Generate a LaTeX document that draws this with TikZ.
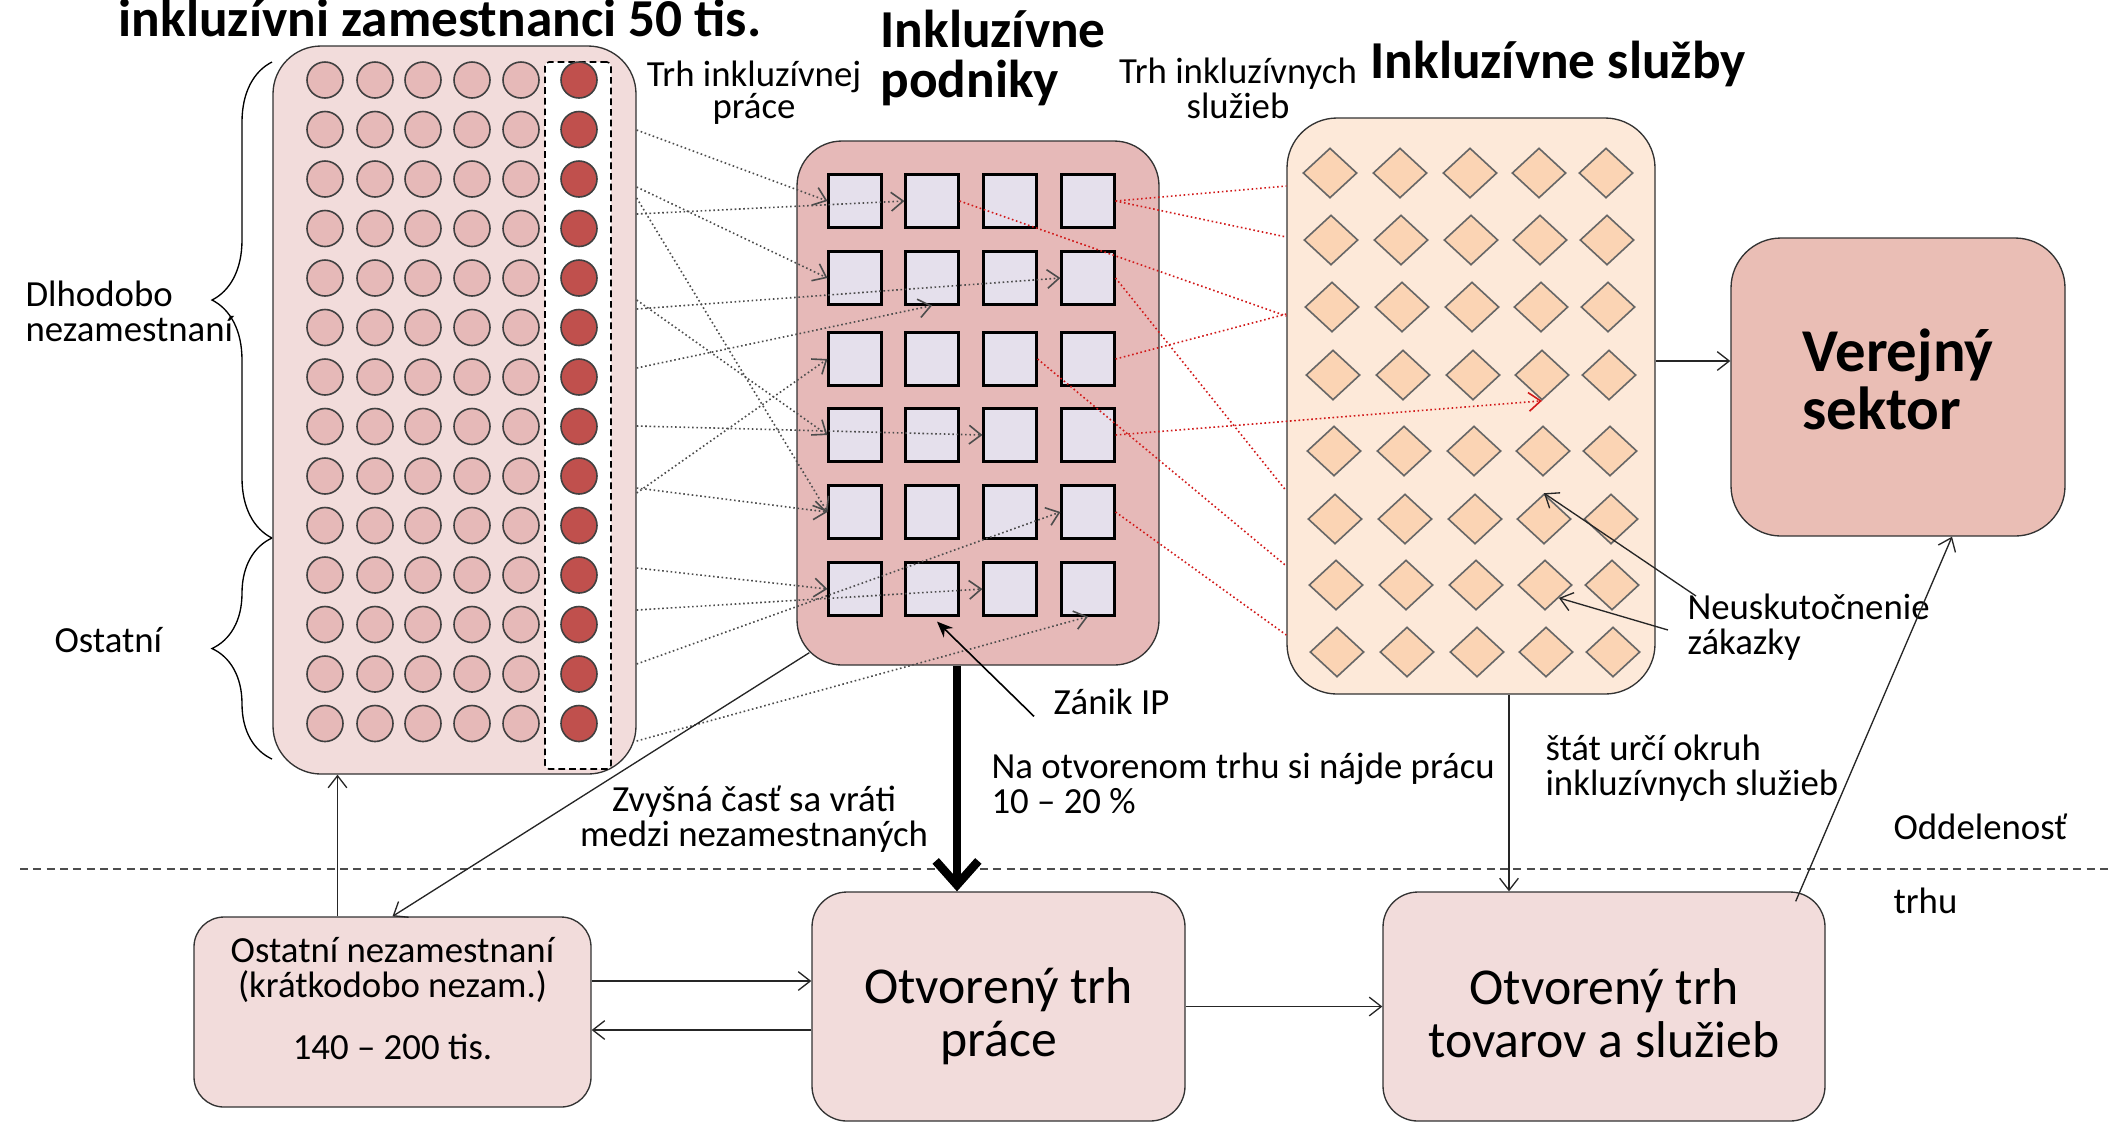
\documentclass[tikz,border=0pt]{standalone}
\usepackage{fontspec}
\setmainfont{Carlito}
\usepackage[dvipsnames]{xcolor}
\usetikzlibrary{arrows, arrows.meta}
\usetikzlibrary{positioning}
\usetikzlibrary{calc}
\usetikzlibrary{shapes.geometric}
\usetikzlibrary{decorations.pathreplacing}
\definecolor{ruzova}{HTML}{F2DCDB}
\definecolor{ruzovatm}{HTML}{E6B9B8}
\definecolor{cervena}{HTML}{C0504D}
\definecolor{levandula}{HTML}{E5E0EC}
\definecolor{broskyna}{HTML}{FDE9D9}
\definecolor{oranzova}{HTML}{FBD4B4}
\definecolor{losos}{HTML}{EABEB5}
\newlength{\px}
\setlength{\px}{0.375pt}
\tikzset{
	panel/.style={draw=black!80, line width=0.5pt, rounded corners=#1},
	osoba/.style={circle, draw=black!75, line width=0.6pt, fill=ruzovatm, minimum size=36\px, inner sep=0},
	firma/.style={rectangle, draw=black, line width=0.8pt, fill=levandula, minimum size=53\px, inner sep=0},
	sluzba/.style={diamond, draw=black!60, line width=0.6pt, fill=oranzova, minimum width=54\px, minimum height=50\px, inner sep=0},
	tok/.style={->, densely dotted, black!70, line width=0.6pt},
	tokr/.style={densely dotted, red!80!black!90, line width=0.6pt},
	sipka/.style={->, black!85, line width=0.5pt},
	hruba/.style={-{Straight Barb[length=9pt,width=16pt]}, line width=3.2pt},
	nadpis/.style={inner sep=0, font=\bfseries\fontsize{20pt}{18.75pt}\selectfont},
	popis/.style={inner sep=0, font=\fontsize{13.8pt}{13.1pt}\selectfont},
	velky/.style={font=\fontsize{19.4pt}{19.9pt}\selectfont, align=center}
}

\begin{document}
\begin{tikzpicture}[x=0.375pt, y=-0.375pt, >={Straight Barb[length=4.5pt,width=7pt]}]
	\useasboundingbox (0,0) rectangle (2112,1124);

	% draw the three panels
	\node[panel=48\px, fill=ruzova, minimum width=363\px, minimum height=728\px] (zam) at (454.5,410) {};
	\node[draw, line width=0.6pt, dash pattern=on 2.5pt off 1.5pt, fill=white, rounded corners=4\px, minimum width=66\px, minimum height=707\px] (strip) at (578,415.5) {};
	\node[panel=45\px, fill=ruzovatm, minimum width=362\px, minimum height=524\px] (podn) at (978,403) {};
	\node[panel=50\px, fill=broskyna, minimum width=368\px, minimum height=576\px] (sluz) at (1471,406) {};

	% draw boxes
	\node[panel=50\px, fill=losos, minimum width=334\px, minimum height=298\px,
		label={[align=left, yshift=3pt, font=\bfseries\fontsize{22.8pt}{21.75pt}\selectfont]center:Verejný\\sektor}] (verej) at (1898,387) {};
	\node[panel=30\px, fill=ruzova, minimum width=397\px, minimum height=190\px,
		label={[align=center, yshift=5pt, font=\fontsize{13.8pt}{12.8pt}\selectfont]center:Ostatní nezamestnaní\\(krátkodobo nezam.)\\[10.5pt]140 – 200 tis.}] (ostn) at (392.5,1012) {};
	\node[panel=35\px, fill=ruzova, minimum width=373\px, minimum height=229\px,
		label={[velky, yshift=-3.75pt]center:Otvorený trh\\práce}] (otprace) at (998.5,1006.5) {};
	\node[panel=35\px, fill=ruzova, minimum width=442\px, minimum height=229\px,
		label={[velky, yshift=-2.5pt]center:Otvorený trh\\tovarov a služieb}] (ottovar) at (1604,1006.5) {};

	% draw people
	\foreach \r in {1,...,14}{
		\foreach \x [count=\c] in {325,375,423,472,521}
			\node[osoba] (c-\r-\c) at (\x,{80+49.5*(\r-1)}) {};
		\node[osoba, fill=cervena] (c-\r-6) at (579,{80+49.5*(\r-1)}) {};
	}

	% draw enterprises
	\foreach \y [count=\r] in {201,278,359,435,512,589}
		\foreach \x [count=\c] in {855,932,1010,1088}
			\node[firma] (sq-\r-\c) at (\x,\y) {};

	% draw services
	\foreach \y [count=\r] in {173,240,307,375,451,519,585,652}
		\foreach \x [count=\c] in {1330,1400,1470,1539,1606}
			\node[sluzba] (d-\r-\c) at (\x+\r-1,\y) {};

	% draw braces
	\draw[decorate, decoration={brace, amplitude=22.5pt}, line width=0.5pt] (272,538) -- (272,62);
	\draw[decorate, decoration={brace, amplitude=22.5pt}, line width=0.5pt] (272,759) -- (272,538);

	% separation line
	\draw[black!70, line width=0.6pt, dash pattern=on 3pt off 2pt] (20,869) -- (2112,869);

	% labour market flows
	\foreach \y/\kam in {130/sq-1-1.west, 187/sq-2-1.west, 198/sq-5-1.west, 214/sq-1-2.west, 300/sq-4-1.west, 309/sq-2-4.west, 368/sq-2-2.south, 426/sq-4-3.west, 493/sq-3-1.west, 488/sq-5-1.west, 568/sq-6-1.west, 610/sq-6-3.west, 664/sq-5-4.west, 741/sq-6-4.south}
		\draw[tok] (zam.east |- 0,\y) -- (\kam);

	% service market flows
	\foreach \z/\y in {sq-1-4/186, sq-1-4/237, sq-1-2/316, sq-3-4/314, sq-2-4/491, sq-3-3/566, sq-5-4/635}
		\draw[tokr] (\z.east) -- (sluz.west |- 0,\y);
	\draw[tokr, ->] (sq-4-4.east) -- (d-4-4.south);

	% draw labels
	\node[nadpis, anchor=base] (t-zam) at (440,36) {inkluzívni zamestnanci 50 tis.};
	\node[nadpis, anchor=north west, align=left] (t-podn) at (880,10) {Inkluzívne\\podniky};
	\node[nadpis, anchor=base west] (t-sluz) at (1370,78) {Inkluzívne služby};
	\node[popis, anchor=north, align=center, font=\fontsize{13.8pt}{12pt}\selectfont] (t-trhp) at (754,60) {Trh inkluzívnej\\práce};
	\node[popis, anchor=north, align=center] (t-trhs) at (1238,57) {Trh inkluzívnych\\služieb};
	\node[popis, anchor=north west, align=left] (dlho) at (25,280) {Dlhodobo\\nezamestnaní};
	\node[popis, anchor=base west] (ostat) at (54,652) {Ostatní};
	\node[popis, anchor=base west] (zanik) at (1053,714) {Zánik IP};
	\node[popis, anchor=north west, align=left] (naotv) at (991,752) {Na otvorenom trhu si nájde prácu\\10 – 20 \%};
	\node[popis, anchor=north, align=center] (zvys) at (754,785) {Zvyšná časť sa vráti\\medzi nezamestnaných};
	\node[popis, anchor=north west, align=left] (stat) at (1545,734) {štát určí okruh\\inkluzívnych služieb};
	\node[popis, anchor=north west, align=left] (neusk) at (1687,593) {Neuskutočnenie\\zákazky};
	\node[popis, anchor=base west] (odd) at (1893,839) {Oddelenosť};
	\node[popis, anchor=base west] (trhu) at (1893,913) {trhu};

	% arrows between parts
	\coordinate (u1) at ([xshift=-55\px]ostn.north);
	\draw[sipka] (u1) -- (u1 |- zam.south);
	\draw[sipka] ($(podn.south west)+(13,-13)$) -- (ostn.north);
	\coordinate (u2) at ([xshift=-21\px]podn.south);
	\draw[hruba] (u2) -- (u2 |- otprace.north);
	\draw[sipka] ([yshift=31\px]ostn.east) -- ([yshift=25.5\px]otprace.west);
	\draw[sipka] ([yshift=-23.5\px]otprace.west) -- ([yshift=-18\px]ostn.east);
	\draw[sipka] (otprace.east) -- (ottovar.west);
	\coordinate (u3) at ([xshift=38\px]sluz.south);
	\draw[sipka] (u3) -- (u3 |- ottovar.north);
	\coordinate (u4) at ([yshift=45\px]sluz.east);
	\draw[sipka] (u4) -- (u4 -| verej.west);
	\draw[sipka] ([xshift=-30\px,yshift=-10\px]ottovar.north east) -- ([xshift=54\px]verej.south);
	\draw[-{Stealth[length=6pt,width=5pt]}, line width=0.6pt] ([xshift=-19\px,yshift=-15\px]zanik.west) -- ([xshift=5\px,yshift=-5\px]sq-6-2.south);
	\draw[sipka] ([xshift=9\px,yshift=-3\px]neusk.north west) -- (d-6-4.north);
	\draw[sipka] ([xshift=-19\px,yshift=-37\px]neusk.north west) -- (d-7-4.south east);
\end{tikzpicture}
\end{document}
